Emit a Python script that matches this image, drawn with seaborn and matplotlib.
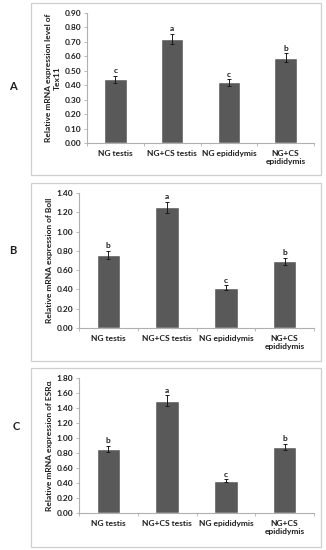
import numpy as np
import pandas as pd
import matplotlib
matplotlib.use("Agg")
import matplotlib.pyplot as plt
from matplotlib.patches import Rectangle
from matplotlib.ticker import FixedLocator, MultipleLocator
import seaborn as sns

groups = ["NG testis", "NG+CS testis", "NG epididymis", "NG+CS\nepididymis"]

tex11 = [0.44, 0.72, 0.42, 0.59]
tex11_err = [0.025, 0.035, 0.022, 0.03]
tex11_sig = ["c", "a", "c", "b"]

boll = [0.76, 1.25, 0.42, 0.69]
boll_err = [0.04, 0.06, 0.022, 0.035]
boll_sig = ["b", "a", "c", "b"]

esr = [0.86, 1.50, 0.43, 0.88]
esr_err = [0.04, 0.07, 0.02, 0.04]
esr_sig = ["b", "a", "c", "b"]

panels = [
    ("A", "Relative mRNA expression level of\nTex11", tex11, tex11_err, tex11_sig, 0.9, 0.1),
    ("B", "Relative mRNA expression of Boll", boll, boll_err, boll_sig, 1.4, 0.2),
    ("C", "Relative mRNA expression of ESR\u03b1", esr, esr_err, esr_sig, 1.8, 0.2),
]

sns.set_theme(style="white")
plt.rcParams["font.family"] = ["Lato", "DejaVu Sans"]
plt.rcParams["font.weight"] = "bold"

FS = 6.0
TXT = "#1e1e1e"

W, H = 326, 550
fig = plt.figure(figsize=(W / 100, H / 100), dpi=100)
fig.patch.set_facecolor("white")

# axes boxes in pixel coords: left, right, top, bottom
ax_px = [(87, 314, 13, 143), (79, 314, 193, 328), (79, 314, 378, 513)]
box_px = [(31, 321, 3, 175), (31, 321, 183, 361), (31, 321, 368, 547)]
letter_px = [(13, 87), (13, 250), (16, 426)]

for (letter, ylab, vals, errs, sig, ymax, step), (l, r, t, b), (bl, br, bt, bb), (lx, ly) in zip(
        panels, ax_px, box_px, letter_px):
    fig.patches.append(Rectangle((bl / W, 1 - bb / H), (br - bl) / W, (bb - bt) / H,
                                 transform=fig.transFigure, fill=False,
                                 edgecolor="#cfcfcf", lw=0.9))
    fig.text(lx / W, 1 - ly / H, letter, fontsize=8, fontweight="bold",
             ha="center", va="center", color=TXT)

    ax = fig.add_axes([l / W, 1 - b / H, (r - l) / W, (b - t) / H])
    df = pd.DataFrame({"group": groups, "value": vals})
    sns.barplot(data=df, x="group", y="value", color="#595959", width=0.4,
                saturation=1, ax=ax, errorbar=None)
    x = np.arange(len(groups))
    ax.errorbar(x, vals, yerr=errs, fmt="none", ecolor="#1a1a1a",
                elinewidth=0.7, capsize=1.5, capthick=0.7)
    for xi, v, e, s in zip(x, vals, errs, sig):
        ax.text(xi, v + e + ymax * 0.012, s, ha="center", va="bottom",
                fontsize=FS, fontweight="bold", color=TXT)

    ax.set_ylim(0, ymax)
    ax.set_xlim(-0.5, len(groups) - 0.5)
    ax.yaxis.set_major_locator(MultipleLocator(step))
    ax.yaxis.set_major_formatter(matplotlib.ticker.FormatStrFormatter("%.2f"))
    ax.set_xlabel("")
    ax.set_ylabel(ylab, fontsize=FS, fontweight="bold", labelpad=3, color=TXT)
    for sp in ["top", "right"]:
        ax.spines[sp].set_visible(False)
    for sp in ["left", "bottom"]:
        ax.spines[sp].set_color("#b0b0b0")
        ax.spines[sp].set_linewidth(0.8)
    ax.tick_params(axis="y", labelsize=FS, length=2, width=0.6, color="#b0b0b0",
                   pad=2, labelcolor=TXT, left=True)
    ax.tick_params(axis="x", labelsize=FS, length=0, pad=5, labelcolor=TXT)
    ax.xaxis.set_minor_locator(FixedLocator(np.arange(-0.5, len(groups), 1.0)))
    ax.tick_params(axis="x", which="minor", length=2, width=0.6, color="#b0b0b0",
                   bottom=True)
    for lab in ax.get_xticklabels() + ax.get_yticklabels():
        lab.set_fontweight("bold")
    ax.set_facecolor("white")

fig.savefig("out.png", dpi=100, facecolor="white")
